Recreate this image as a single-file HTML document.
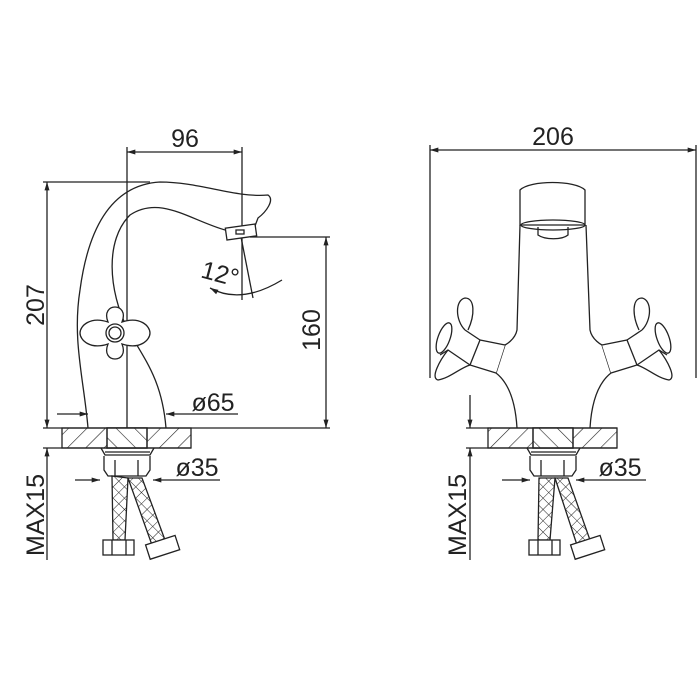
<!DOCTYPE html>
<html><head><style>html,body{margin:0;padding:0;background:#fff}svg{display:block}</style></head><body>
<svg width="700" height="700" viewBox="0 0 700 700" xmlns="http://www.w3.org/2000/svg" font-family="Liberation Sans, sans-serif">
<defs>
<marker id="a" viewBox="0 0 10 6" refX="10" refY="3" markerWidth="14" markerHeight="5" markerUnits="userSpaceOnUse" orient="auto-start-reverse"><path d="M0,0L10,3L0,6z" fill="#222"/></marker>
<pattern id="h" width="13" height="13" patternUnits="userSpaceOnUse" patternTransform="rotate(45)"><line x1="0" y1="0" x2="0" y2="13" stroke="#222" stroke-width="1.2"/></pattern>
<pattern id="h2" width="13" height="13" patternUnits="userSpaceOnUse" patternTransform="rotate(-45)"><line x1="0" y1="0" x2="0" y2="13" stroke="#222" stroke-width="1.2"/></pattern>
<pattern id="x" width="8" height="8" patternUnits="userSpaceOnUse" patternTransform="rotate(45)"><path d="M0,0V8M0,0H8" stroke="#222" stroke-width="1" fill="none"/></pattern>
</defs>
<g stroke="#222" stroke-width="1.3" fill="none">
<line x1="127" y1="147" x2="127" y2="428"/>
<line x1="242" y1="147" x2="242" y2="300"/>
<line x1="127" y1="152" x2="242" y2="152" marker-start="url(#a)" marker-end="url(#a)"/>
<line x1="43" y1="182" x2="150" y2="182"/>
<line x1="47" y1="182" x2="47" y2="428" marker-start="url(#a)" marker-end="url(#a)"/>
<line x1="250" y1="237" x2="330" y2="237"/>
<line x1="326" y1="237" x2="326" y2="428" marker-start="url(#a)" marker-end="url(#a)"/>
<line x1="43" y1="428" x2="330" y2="428"/>
<line x1="43" y1="448" x2="62" y2="448"/>
<line x1="57" y1="414" x2="88" y2="414" marker-end="url(#a)"/>
<line x1="238" y1="414" x2="166" y2="414" marker-end="url(#a)"/>
<line x1="47" y1="560" x2="47" y2="448" marker-end="url(#a)"/>
<line x1="75" y1="480" x2="100" y2="480" marker-end="url(#a)"/>
<line x1="220" y1="480" x2="153" y2="480" marker-end="url(#a)"/>
<line x1="241" y1="237" x2="253" y2="298"/>
<path d="M210,288 Q241,305 282,280" marker-start="url(#a)"/>
<path d="M88,428 C84,380 72,340 80,290 C88,230 110,185 160,182 C200,182 235,198 268,195 C275,200 266,212 258,218 L255,226"/>
<path d="M166,428 C162,380 145,360 128,330 C108,290 105,240 130,215 C160,195 190,220 225,230"/>
<rect x="226" y="226" width="30" height="12" transform="rotate(-8 241 232)" fill="#fff"/>
<rect x="236" y="230" width="8" height="4"/>
<path d="M108,322 C100,302 130,302 122,322 C140,316 150,326 150,333 C150,340 140,350 122,344 C130,364 100,364 108,344 C90,350 80,340 80,333 C80,326 90,316 108,322Z" fill="#fff"/>
<circle cx="115" cy="333" r="9" fill="#fff"/><circle cx="115" cy="333" r="6"/>
<rect x="62" y="428" width="129" height="20" fill="url(#h)"/>
<rect x="107" y="428" width="40" height="20" fill="#fff"/>
<rect x="107" y="428" width="40" height="20" fill="url(#h2)"/>
<line x1="62" y1="448" x2="191" y2="448"/>
<path d="M101,448 L105,455 L150,455 L154,448"/><line x1="105" y1="452" x2="150" y2="452"/>
<path d="M104,456 V470 L108,476 H146 L150,470 V456"/>
<line x1="115" y1="460" x2="115" y2="476"/><line x1="138" y1="460" x2="138" y2="476"/>
<path d="M112,476 L113,540 L125,540 L128,478Z" fill="url(#x)"/>
<path d="M128,478 L142,478 L165,540 L152,545Z" fill="url(#x)"/>
<rect x="103" y="540" width="31" height="15" fill="#fff"/><line x1="112" y1="540" x2="112" y2="555"/><line x1="126" y1="540" x2="126" y2="555"/>
<rect x="147" y="540" width="31" height="15" fill="#fff" transform="rotate(-18 162 547)"/>
<line x1="430" y1="145" x2="430" y2="378"/>
<line x1="696" y1="145" x2="696" y2="378"/>
<line x1="430" y1="150" x2="696" y2="150" marker-start="url(#a)" marker-end="url(#a)"/>
<path d="M520,190 C530,180 575,180 585,190 L585,225 L520,225Z"/>
<ellipse cx="553" cy="225" rx="32" ry="5"/>
<path d="M538,227 V235 C545,240 562,240 568,235 V227"/>
<path d="M520,225 L517,330 C515,340 505,345 505,345 L496,373 C505,380 515,395 517,428"/>
<path d="M586,225 L590,330 C592,340 602,345 602,345 L611,373 C602,380 592,395 590,428"/>
<path d="M505,345 L480,340 L470,365 L496,373" fill="#fff"/>
<path d="M470,365 L448,350 L440,355 M480,340 L465,330"/>
<path d="M465,330 C455,320 455,300 465,298 C475,298 475,315 468,330 M448,350 C440,360 430,378 438,380 C450,378 460,368 470,365"/>
<ellipse cx="444" cy="338" rx="6" ry="16" transform="rotate(20 444 338)" fill="#fff"/>
<path d="M602,345 L627,340 L637,365 L611,373" fill="#fff"/>
<path d="M637,365 L659,350 L667,355 M627,340 L642,330"/>
<path d="M642,330 C652,320 652,300 642,298 C632,298 632,315 639,330 M659,350 C667,360 677,378 669,380 C657,378 647,368 637,365"/>
<ellipse cx="663" cy="338" rx="6" ry="16" transform="rotate(-20 663 338)" fill="#fff"/>
<line x1="466" y1="428" x2="617" y2="428"/>
<line x1="466" y1="448" x2="488" y2="448"/>
<line x1="470" y1="395" x2="470" y2="428" marker-end="url(#a)"/>
<line x1="470" y1="560" x2="470" y2="448" marker-end="url(#a)"/>
<rect x="488" y="428" width="129" height="20" fill="url(#h)"/>
<rect x="533" y="428" width="40" height="20" fill="#fff"/>
<rect x="533" y="428" width="40" height="20" fill="url(#h2)"/>
<line x1="488" y1="448" x2="617" y2="448"/>
<path d="M527,448 L531,455 L576,455 L580,448"/><line x1="531" y1="452" x2="576" y2="452"/>
<path d="M530,456 V470 L534,476 H572 L576,470 V456"/>
<line x1="541" y1="460" x2="541" y2="476"/><line x1="564" y1="460" x2="564" y2="476"/>
<line x1="502" y1="480" x2="530" y2="480" marker-end="url(#a)"/>
<line x1="646" y1="480" x2="576" y2="480" marker-end="url(#a)"/>
<path d="M539,478 L538,540 L550,540 L555,478Z" fill="url(#x)"/>
<path d="M555,478 L568,478 L590,540 L577,545Z" fill="url(#x)"/>
<rect x="529" y="540" width="31" height="15" fill="#fff"/><line x1="538" y1="540" x2="538" y2="555"/><line x1="552" y1="540" x2="552" y2="555"/>
<rect x="572" y="540" width="31" height="15" fill="#fff" transform="rotate(-18 587 547)"/>
</g>
<g fill="#222" font-size="25">
<text x="185" y="147" text-anchor="middle">96</text>
<text x="553" y="145" text-anchor="middle">206</text>
<text x="213" y="411" text-anchor="middle">ø65</text>
<text x="197" y="476" text-anchor="middle">ø35</text>
<text x="620" y="476" text-anchor="middle">ø35</text>
<text transform="translate(44,305) rotate(-90)" text-anchor="middle">207</text>
<text transform="translate(320,330) rotate(-90)" text-anchor="middle">160</text>
<text transform="translate(44,515) rotate(-90)" text-anchor="middle">MAX15</text>
<text transform="translate(466,515) rotate(-90)" text-anchor="middle">MAX15</text>
<text transform="translate(218,282) rotate(15)" text-anchor="middle">12°</text>
</g>
</svg>
</body></html>
